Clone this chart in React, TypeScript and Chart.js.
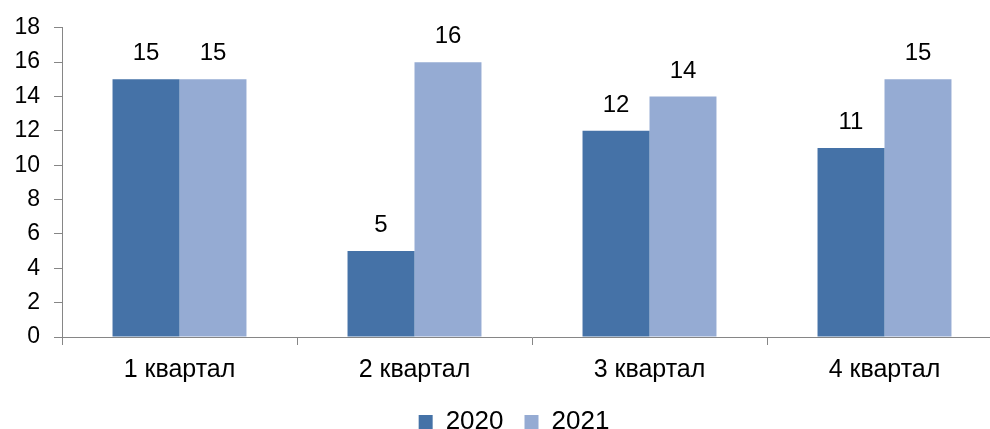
import React, { useEffect, useRef } from "react";
import { Chart, registerables } from "chart.js";
Chart.register(...registerables);

const categories = ["1 квартал", "2 квартал", "3 квартал", "4 квартал"];
const seriesLabels = ["2020", "2021"];
const values2020 = [15, 5, 12, 11];
const values2021 = [15, 16, 14, 15];
const yMin = 0;
const yMax = 18;
const yStep = 2;

const FONT = "'Liberation Sans', Arial, sans-serif";

export default function App() {
  const ref = useRef<HTMLCanvasElement>(null);
  useEffect(() => {
    const valueLabels = {
      id: "valueLabels",
      afterDatasetsDraw(chart: any) {
        const ctx = chart.ctx;
        ctx.save();
        ctx.font = `24px ${FONT}`;
        ctx.fillStyle = "#000";
        ctx.textAlign = "center";
        ctx.textBaseline = "alphabetic";
        chart.data.datasets.forEach((ds: any, i: number) => {
          chart.getDatasetMeta(i).data.forEach((el: any, j: number) => {
            ctx.fillText(String(ds.data[j]), el.x, el.y - 19);
          });
        });
        ctx.restore();
      },
    };
    const legendShift = {
      id: "legendShift",
      afterLayout(chart: any) {
        if (chart.legend) {
          chart.legend.left += 13;
          chart.legend.right += 13;
        }
      },
    };
    const chart = new Chart(ref.current as HTMLCanvasElement, {
      type: "bar",
      data: {
        labels: categories,
        datasets: [
          { label: seriesLabels[0], data: values2020, backgroundColor: "#4572A7" },
          { label: seriesLabels[1], data: values2021, backgroundColor: "#95ABD3" },
        ],
      },
      options: {
        animation: false,
        responsive: false,
        layout: { padding: { top: 25, right: 0, left: 0, bottom: 0 } },
        plugins: {
          legend: {
            position: "bottom",
            labels: {
              boxWidth: 14,
              boxHeight: 14,
              padding: 21,
              color: "#000",
              font: { family: FONT, size: 26 },
            },
          },
          tooltip: { enabled: false },
        },
        scales: {
          x: {
            grid: { drawOnChartArea: false, drawTicks: true, tickLength: 8, color: "#868686", offset: true },
            border: { color: "#868686" },
            ticks: { color: "#000", font: { family: FONT, size: 25 }, padding: 10 },
            afterFit(s: any) {
              s.height = 51;
            },
          },
          y: {
            min: yMin,
            max: yMax,
            ticks: { stepSize: yStep, color: "#000", font: { family: FONT, size: 23 }, padding: 14 },
            grid: { drawOnChartArea: false, tickLength: 8, color: "#868686" },
            border: { color: "#868686" },
            afterFit(s: any) {
              s.width = 62;
            },
          },
        },
        datasets: { bar: { barPercentage: 1, categoryPercentage: 0.57 } },
      } as any,
      plugins: [valueLabels, legendShift],
    });
    return () => chart.destroy();
  }, []);
  return (
    <div style={{ position: "fixed", left: 0, top: 0, width: 990, height: 429, overflow: "hidden", background: "#fff" }}>
      <canvas ref={ref} width={1002} height={445} style={{ display: "block" }} />
    </div>
  );
}
